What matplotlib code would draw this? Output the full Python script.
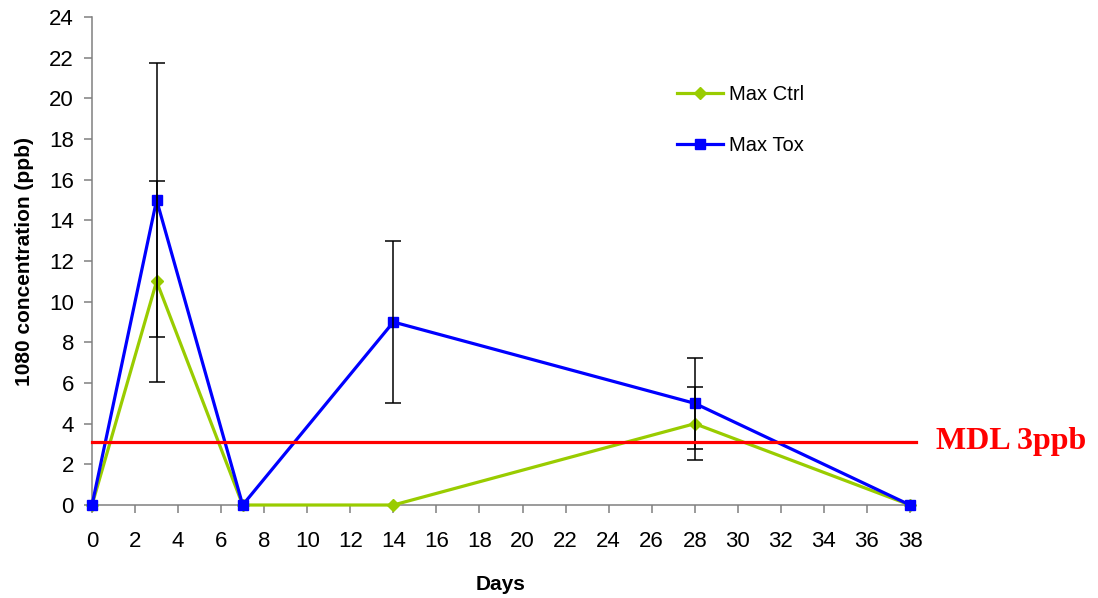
import matplotlib
matplotlib.use("Agg")
import matplotlib.pyplot as plt

days = [0, 3, 7, 14, 28, 38]
max_ctrl = [0, 11, 0, 0, 4, 0]
max_tox = [0, 15, 0, 9, 5, 0]

# error bars (only where measured)
ctrl_err_days = [3, 28]
ctrl_err_vals = [11, 4]
ctrl_err = [4.95, 1.8]
tox_err_days = [3, 14, 28]
tox_err_vals = [15, 9, 5]
tox_err = [6.75, 4.0, 2.25]

mdl = 3.1
x_ticks = list(range(0, 39, 2))
y_ticks = list(range(0, 25, 2))

plt.rcParams['font.family'] = ['Liberation Sans', 'DejaVu Sans']

fig = plt.figure(figsize=(10.98, 5.98), dpi=100)
ax = fig.add_axes([0.0838, 0.1555, 0.745, 0.816])

green = '#99cc00'
blue = '#0000ff'

ax.plot(days, max_ctrl, color=green, lw=2.3, marker='D', ms=6,
        label='Max Ctrl', zorder=3, clip_on=False)
ax.plot(days, max_tox, color=blue, lw=2.3, marker='s', ms=7,
        label='Max Tox', zorder=4, clip_on=False)

ax.errorbar(ctrl_err_days, ctrl_err_vals, yerr=ctrl_err, fmt='none',
            ecolor='black', elinewidth=1.1, capsize=6, capthick=1.1, zorder=5)
ax.errorbar(tox_err_days, tox_err_vals, yerr=tox_err, fmt='none',
            ecolor='black', elinewidth=1.1, capsize=6, capthick=1.1, zorder=5)

ax.plot([0, 38.3], [mdl, mdl], color='#ff0000', lw=2.3, zorder=6, clip_on=False)
ax.text(39.2, mdl, 'MDL 3ppb', color='#ff0000', fontsize=23,
        fontweight='bold', family='Liberation Serif', va='center', ha='left')

ax.set_xlim(0, 38)
ax.set_ylim(0, 24)
ax.set_xticks(x_ticks)
ax.set_yticks(y_ticks)
ax.tick_params(axis='both', labelsize=16, color='#808080', length=6,
               width=1.1, direction='out')
ax.tick_params(axis='x', pad=13)
ax.tick_params(axis='y', pad=7)
for side in ('top', 'right'):
    ax.spines[side].set_visible(False)
for side in ('left', 'bottom'):
    ax.spines[side].set_color('#808080')
    ax.spines[side].set_linewidth(1.1)

ax.set_xlabel('Days', fontsize=15, fontweight='bold', labelpad=16)
ax.set_ylabel('1080 concentration (ppb)', fontsize=15, fontweight='bold',
              labelpad=11)

leg = ax.legend(loc='upper left', bbox_to_anchor=(0.693, 0.898), frameon=False,
                fontsize=14.5, handlelength=2.3, labelspacing=1.6,
                handletextpad=0.3)

fig.savefig('out.png', dpi=100)
